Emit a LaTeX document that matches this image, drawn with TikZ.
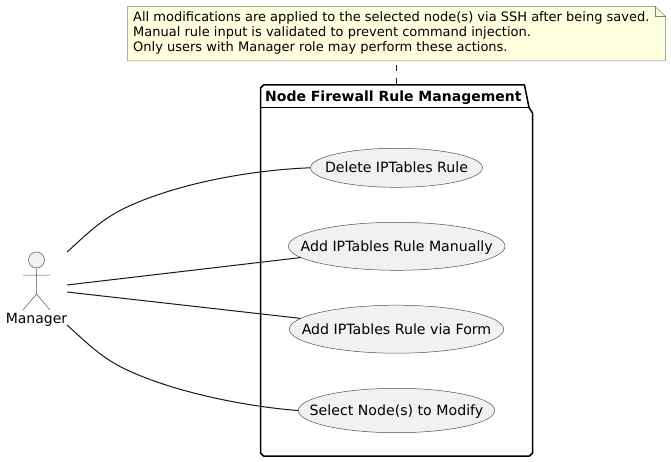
\documentclass[tikz,border=0pt]{standalone}
\usepackage{fontspec}
\setmainfont{DejaVu Sans}
\usetikzlibrary{shapes.geometric}
\definecolor{ufill}{HTML}{F1F1F1}
\definecolor{ustroke}{HTML}{181818}
\definecolor{thinstroke}{HTML}{505050}
\definecolor{notefill}{HTML}{FEFFDD}
\definecolor{notestroke}{HTML}{7F7F7F}
\newcommand{\uctext}[1]{\makebox[0pt]{\smash{\raisebox{-5pt}{#1}}}}
\tikzset{
  usecase/.style={ellipse,draw=thinstroke,fill=ufill,line width=.5pt,inner sep=0pt,font=\fontsize{14.15}{16}\selectfont,text=black},
  link/.style={draw=ustroke,line width=1pt},
  actorline/.style={draw=thinstroke,line width=.5pt},
  pkg/.style={draw=black,line width=1.5pt,line join=round},
  notebox/.style={draw=notestroke,fill=notefill,line width=.5pt}
}
\begin{document}
\begin{tikzpicture}[x=1pt,y=-1pt]
\useasboundingbox (0,0) rectangle (671,462);
% package
\draw[pkg,fill=white] (263.5,85) -- (524.5,85) -- (529,107.5) -- (532.5,113) -- (532.5,453) -- (529.5,456) -- (263.5,456) -- (260.5,453) -- (260.5,88) -- cycle;
\draw[pkg] (260.5,107.5) -- (529,107.5);
\node[anchor=base west,inner sep=0pt,font=\fontsize{14}{16}\selectfont\bfseries] (pkgtitle) at (265,101.5) {Node Firewall Rule Management};
% note
\draw[notebox] (127.5,6.5) -- (655,6.5) -- (665.5,16.5) -- (665.5,61) -- (127.5,61) -- cycle;
\draw[notebox,fill=none] (655,6.5) -- (655,16.5) -- (665.5,16.5);
\node[anchor=north west,inner sep=0pt,align=left,font=\fontsize{13}{15.1}\selectfont] (note) at (133,11.5) {All modifications are applied to the selected node(s) via SSH after being saved.\\Manual rule input is validated to prevent command injection.\\Only users with Manager role may perform these actions.};
\coordinate (noteb) at (396.5,61);
\coordinate (pkgt) at (396.5,85);
\draw[ustroke,line width=.8pt,dash pattern=on 6pt off 7pt,dash phase=9pt] (noteb) -- (pkgt);
% use cases
\node[usecase,minimum width=172pt,minimum height=39pt] (del) at (396.5,167.8) {\uctext{Delete IPTables Rule}};
\node[usecase,minimum width=216.7pt,minimum height=48pt] (man) at (396.7,246.3) {\uctext{Add IPTables Rule Manually}};
\node[usecase,minimum width=214.4pt,minimum height=48pt] (frm) at (396.5,329.2) {\uctext{Add IPTables Rule via Form}};
\node[usecase,minimum width=196.4pt,minimum height=44.4pt] (sel) at (396.5,410.5) {\uctext{Select Node(s) to Modify}};
% actor
\node[circle,draw=thinstroke,fill=ufill,line width=.5pt,minimum size=16pt,inner sep=0pt] (head) at (36.5,260) {};
\coordinate (hip) at (36.5,294);
\coordinate (arml) at (23,275);
\coordinate (armr) at (50,275);
\coordinate (legl) at (23,310);
\coordinate (legr) at (50,310);
\draw[actorline] (head.south) -- (hip) (arml) -- (armr) (legl) -- (hip) -- (legr);
\node[anchor=base,inner sep=0pt,font=\fontsize{14}{16}\selectfont] (mgr) at (36.5,323.5) {Manager};
% connectors
\coordinate (a1) at (67,252);
\coordinate (a2) at (67,285);
\coordinate (a3) at (67,292);
\coordinate (a4) at (67,325);
\draw[link] (a1) .. controls (85,236) and (100,220) .. (125,208) .. controls (175,184) and (250,170) .. (del.west);
\draw[link] (a2) -- (man);
\draw[link] (a3) -- (frm);
\draw[link] (a4) .. controls (85,341) and (100,357) .. (125,369) .. controls (175,393) and (250,407) .. (sel.west);
\end{tikzpicture}
\end{document}
